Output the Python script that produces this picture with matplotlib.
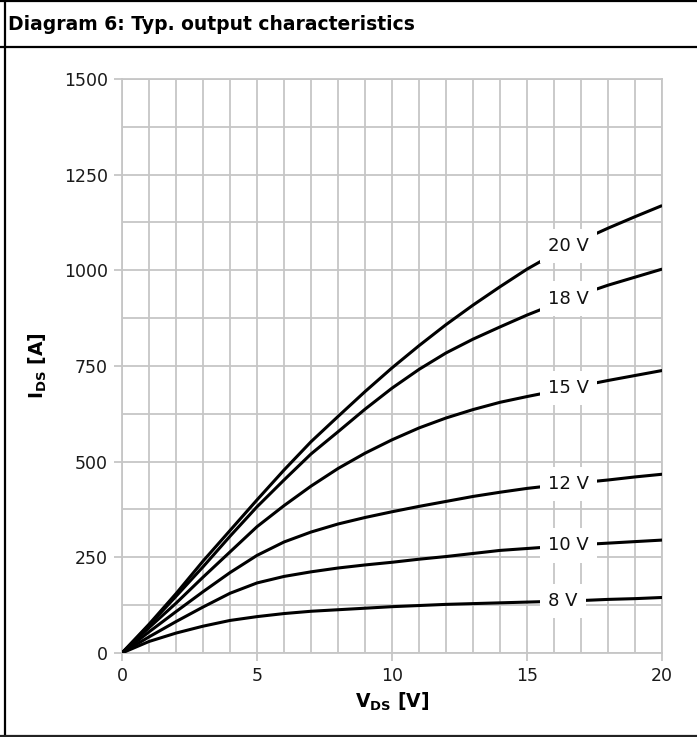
import numpy as np
import matplotlib
matplotlib.use("Agg")
import matplotlib.pyplot as plt
from matplotlib.lines import Line2D
from matplotlib.ticker import MultipleLocator

plt.rcParams["font.family"] = ["DejaVu Sans"]
plt.rcParams["mathtext.fontset"] = "dejavusans"

# V_DS grid [V]
v_ds = [0, 1, 2, 3, 4, 5, 6, 7, 8, 9, 10, 11, 12, 13, 14, 15, 16, 17, 18, 19, 20]

# I_DS [A] for each gate voltage
i_20v = [0, 75, 155, 240, 320, 400, 478, 552, 618, 683, 745, 803, 858, 909, 957, 1003, 1043, 1078, 1110, 1140, 1169]
i_18v = [0, 72, 148, 225, 305, 382, 452, 520, 578, 637, 692, 741, 784, 820, 852, 883, 911, 937, 961, 982, 1003]
i_15v = [0, 66, 130, 198, 264, 330, 385, 436, 482, 522, 557, 588, 614, 636, 655, 670, 684, 698, 712, 725, 738]
i_12v = [0, 55, 108, 160, 210, 255, 290, 316, 337, 354, 369, 383, 396, 409, 420, 430, 438, 445, 452, 460, 467]
i_10v = [0, 42, 82, 120, 156, 183, 200, 212, 222, 230, 237, 245, 252, 260, 268, 273, 278, 283, 287, 291, 295]
i_8v = [0, 30, 52, 70, 85, 95, 103, 109, 113, 117, 121, 124, 127, 129, 131, 133, 135, 137, 140, 142, 145]

curves = [i_20v, i_18v, i_15v, i_12v, i_10v, i_8v]
curve_labels = ["20 V", "18 V", "15 V", "12 V", "10 V", "8 V"]

label_x = 15.78
grid_color = "#c6c6c6"

fig = plt.figure(figsize=(6.97, 7.37), dpi=100)
ax = fig.add_axes([0.175, 0.114, 0.775, 0.779])

for vals, lab in zip(curves, curve_labels):
    ax.plot(v_ds, vals, color="black", lw=2.2, solid_capstyle="butt", zorder=3)
    y_lab = np.interp(label_x + 0.8, v_ds, vals)
    ax.text(label_x, y_lab, lab, ha="left", va="center", fontsize=13, color="#111111",
            zorder=4, bbox=dict(boxstyle="square,pad=0.45", fc="white", ec="none"))

ax.set_xlim(0, 20)
ax.set_ylim(0, 1500)
ax.xaxis.set_major_locator(MultipleLocator(5))
ax.xaxis.set_minor_locator(MultipleLocator(1))
ax.yaxis.set_major_locator(MultipleLocator(250))
ax.yaxis.set_minor_locator(MultipleLocator(125))
ax.grid(True, which="both", color=grid_color, lw=1.3, zorder=0)
ax.set_axisbelow(True)
ax.tick_params(which="major", direction="out", length=6, width=1.3, color=grid_color,
               labelsize=12.5, labelcolor="#1a1a1a", pad=4)
ax.tick_params(which="minor", length=0)
for sp in ax.spines.values():
    sp.set_color(grid_color)
    sp.set_linewidth(1.3)

ax.set_xlabel(r"V$_\mathbf{DS}$ [V]", fontsize=13.5, fontweight="bold", labelpad=4)
ax.set_ylabel(r"I$_\mathbf{DS}$ [A]", fontsize=13.5, fontweight="bold", labelpad=11)

# title and frame of the datasheet box
fig.text(0.011, 0.967, "Diagram 6: Typ. output characteristics", ha="left", va="center",
         fontsize=13.5, fontweight="bold")
fig.add_artist(Line2D([0.0065, 0.0065], [0, 1], color="black", lw=1.6, transform=fig.transFigure))
fig.add_artist(Line2D([0, 1], [0.999, 0.999], color="black", lw=1.6, transform=fig.transFigure))
fig.add_artist(Line2D([0, 1], [0.936, 0.936], color="black", lw=1.6, transform=fig.transFigure))
fig.add_artist(Line2D([0, 1], [0.002, 0.002], color="#222222", lw=1.6, transform=fig.transFigure))

fig.savefig("out.png", dpi=100)
